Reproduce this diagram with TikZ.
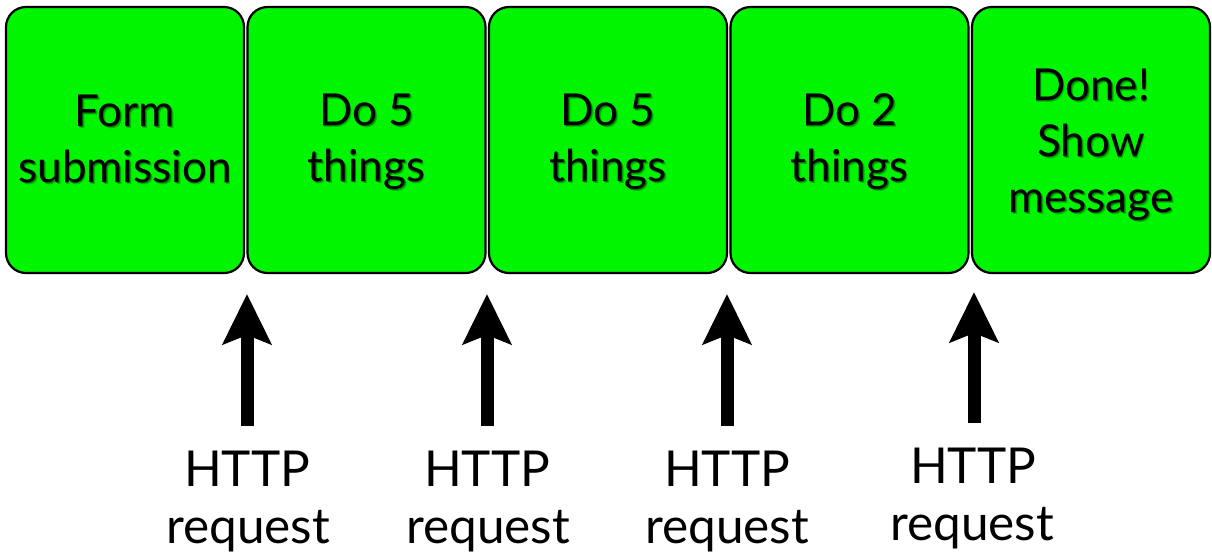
\documentclass[tikz,border=0pt]{standalone}
\usepackage{fontspec}
\setmainfont{Lato}
\usetikzlibrary{arrows.meta}
\definecolor{boxgreen}{RGB}{0,245,0}
\colorlet{glowA}{boxgreen!50!black}
\colorlet{glowB}{boxgreen!78!black}
\newcommand\glowtext[1]{\makebox[0pt][l]{\hspace{1.8pt}\raisebox{-1.8pt}{\textcolor{glowB}{#1}}}\makebox[0pt][l]{\hspace{0.8pt}\raisebox{-0.8pt}{\textcolor{glowA}{#1}}}#1}
\newcommand\boxlines[2]{\raisebox{-#1}[\height][\depth]{\begin{tabular}{@{}c@{}}#2\end{tabular}}}
\begin{document}
\begin{tikzpicture}[x=1pt,y=-1pt,
  stagebox/.style={draw=black, line width=2.2pt, fill=boxgreen, rounded corners=20pt,
    minimum width=238pt, minimum height=266pt, inner sep=0pt, align=center,
    font=\fontsize{44}{56}\selectfont},
  bigarrow/.style={line width=13pt, -{Stealth[length=50pt,width=48pt,inset=9pt]}},
  lbl/.style={font=\fontsize{49.5}{60}\selectfont, anchor=base, inner sep=0pt}]
\useasboundingbox (0,0) rectangle (1212,558);
\fill[white] (0,0) rectangle (1212,558);
% boxes
\node[stagebox] (b1) at (125,140) {\boxlines{3pt}{\glowtext{Form}\\\glowtext{submission}}};
\node[stagebox] (b2) at (366.5,140) {\boxlines{2pt}{\glowtext{Do 5}\\\glowtext{things}}};
\node[stagebox] (b3) at (608,140) {\boxlines{2pt}{\glowtext{Do 5}\\\glowtext{things}}};
\node[stagebox] (b4) at (849.5,140) {\boxlines{2pt}{\glowtext{Do 2}\\\glowtext{things}}};
\node[stagebox] (b5) at (1091,140) {\boxlines{5pt}{\glowtext{Done!}\\\glowtext{Show}\\\glowtext{message}}};
% labels
\node[lbl] (h1) at (247,486) {HTTP};
\node[lbl] (r1) at (248,543) {request};
\node[lbl] (h2) at (487,486) {HTTP};
\node[lbl] (r2) at (488,543) {request};
\node[lbl] (h3) at (727,486) {HTTP};
\node[lbl] (r3) at (727,543) {request};
\node[lbl] (h4) at (973,483) {HTTP};
\node[lbl] (r4) at (972,540) {request};
% arrow tips
\coordinate (t1) at (247,294);
\coordinate (t2) at (487,294);
\coordinate (t3) at (727,294);
\coordinate (t4) at (974,292);
\draw[bigarrow] (h1.north) ++(0,-24) -- (t1);
\draw[bigarrow] (h2.north) ++(0,-24) -- (t2);
\draw[bigarrow] (h3.north) ++(0,-24) -- (t3);
\draw[bigarrow] ([xshift=1pt]h4.north) ++(0,-24) -- (t4);
\end{tikzpicture}
\end{document}
